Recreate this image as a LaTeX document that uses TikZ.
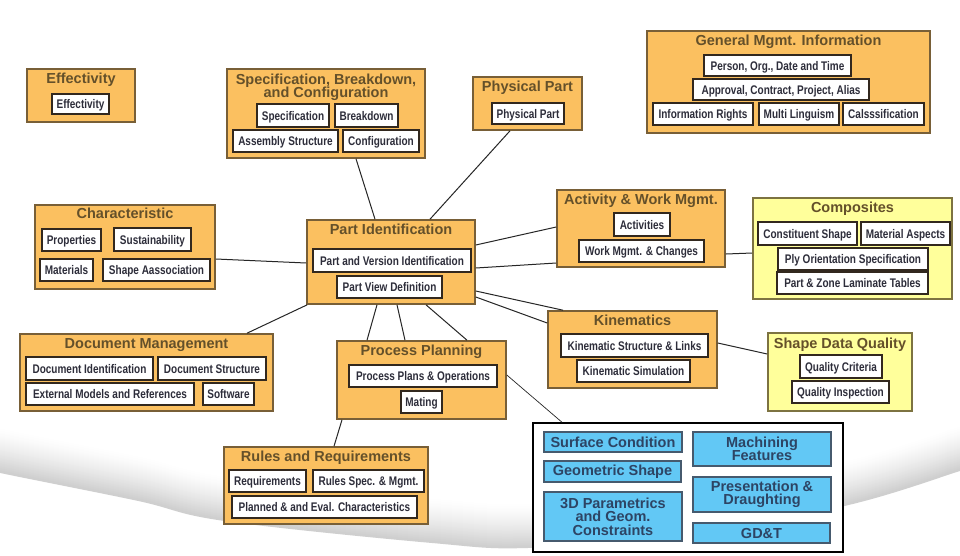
\documentclass[tikz,border=0pt]{standalone}
\usepackage{fontspec}
\setmainfont{Liberation Sans}
\newfontfamily\narrowfont[FakeStretch=0.8]{Liberation Sans}

\definecolor{grpfill}{RGB}{251,192,96}
\definecolor{grpborder}{RGB}{120,95,55}
\definecolor{yfill}{RGB}{255,255,155}
\definecolor{yborder}{RGB}{125,115,65}
\definecolor{titlecol}{RGB}{100,80,42}
\definecolor{itemborder}{RGB}{50,40,30}
\definecolor{itemtext}{RGB}{45,45,58}
\definecolor{bluefill}{RGB}{98,200,245}
\definecolor{blueborder}{RGB}{70,90,110}
\definecolor{bluetext}{RGB}{45,68,100}

\begin{document}
\begin{tikzpicture}[x=1pt,y=-1pt,
  grp/.style={draw=grpborder, fill=grpfill, line width=1.6pt, inner sep=0pt},
  ygrp/.style={grp, draw=yborder, fill=yfill},
  title/.style={font=\fontsize{14.5}{13}\selectfont\bfseries, text=titlecol, inner sep=0pt,
    text height=10.4pt, text depth=0pt},
  item/.style={draw=itemborder, fill=white, line width=1.2pt, inner sep=0pt,
    font=\narrowfont\fontsize{12.5}{14}\selectfont\bfseries, text=itemtext,
    text height=9pt, text depth=0pt},
  bluebox/.style={draw=blueborder, fill=bluefill, line width=1.3pt, inner sep=0pt,
    font=\fontsize{14.5}{13.5}\selectfont\bfseries, text=bluetext, align=center},
  holder/.style={draw=black, fill=white, line width=1.5pt, inner sep=0pt},
  link/.style={draw=black!85, line width=1pt}]

\useasboundingbox (0,0) rectangle (960,555);
\fill[white] (0,0) rectangle (960,555);

% soft grey swoosh along the lower part of the page
\foreach \i in {44,43,...,0} {
  \pgfmathsetmacro\shade{19*(1-\i/44)^1.4}
  \draw[line width=1.8pt, color=black!\shade, yshift=\i pt]
    plot[smooth, tension=0.6] coordinates {(-20,466) (0,472) (138,500) (224,520) (431,542) (531,547) (700,534) (853,503) (960,470) (980,463)};
}

% ---------- Effectivity ----------
\node[grp, minimum width=108, minimum height=53] (eff) at (81,95.5) {};
\node[title] (teff) at (81,78) {Effectivity};
\node[item, minimum width=57, minimum height=20] (eff1) at (80.5,104) {Effectivity};

% ---------- Specification, Breakdown, and Configuration ----------
\node[grp, minimum width=198, minimum height=89] (spec) at (326,113.5) {};
\node[title] (tspec) at (326,79) {Specification, Breakdown,};
\node[title] (tspecb) at (326,92) {and Configuration};
\node[item, minimum width=72, minimum height=23] (spec1) at (293,115.5) {Specification};
\node[item, minimum width=63, minimum height=23] (spec2) at (366.5,115.5) {Breakdown};
\node[item, minimum width=105, minimum height=22] (spec3) at (285.5,141) {Assembly Structure};
\node[item, minimum width=76, minimum height=22] (spec4) at (381,141) {Configuration};

% ---------- Physical Part ----------
\node[grp, minimum width=109, minimum height=53] (phys) at (527.5,103.5) {};
\node[title] (tphys) at (527.5,86) {Physical Part};
\node[item, minimum width=72, minimum height=21] (phys1) at (528,113.5) {Physical Part};

% ---------- General Mgmt. Information ----------
\node[grp, minimum width=283, minimum height=102] (gen) at (788.5,82) {};
\node[title] (tgen) at (788.5,40) {General Mgmt. Information};
\node[item, minimum width=147, minimum height=21] (gen1) at (777.5,65.5) {Person, Org., Date and Time};
\node[item, minimum width=176, minimum height=21] (gen2) at (781,89.5) {Approval, Contract, Project, Alias};
\node[item, minimum width=100, minimum height=22] (gen3) at (703,114) {Information Rights};
\node[item, minimum width=80, minimum height=22] (gen4) at (799,114) {Multi Linguism};
\node[item, minimum width=81, minimum height=22] (gen5) at (883.5,114) {Calsssification};

% ---------- Characteristic ----------
\node[grp, minimum width=180, minimum height=84] (char) at (125,247) {};
\node[title] (tchar) at (125,213) {Characteristic};
\node[item, minimum width=59, minimum height=22] (char1) at (71.5,240) {Properties};
\node[item, minimum width=77, minimum height=23] (char2) at (152.5,239.5) {Sustainability};
\node[item, minimum width=53, minimum height=22] (char3) at (66.5,270) {Materials};
\node[item, minimum width=107, minimum height=22] (char4) at (156.5,270) {Shape Aassociation};

% ---------- Part Identification ----------
\node[grp, minimum width=168, minimum height=84] (pid) at (391,262) {};
\node[title] (tpid) at (391,229) {Part Identification};
\node[item, minimum width=158, minimum height=23] (pid1) at (392,260.5) {Part and Version Identification};
\node[item, minimum width=105, minimum height=22] (pid2) at (389.5,287) {Part View Definition};

% ---------- Activity & Work Mgmt. ----------
\node[grp, minimum width=168, minimum height=77] (act) at (641,228.5) {};
\node[title] (tact) at (641,199) {Activity \& Work Mgmt.};
\node[item, minimum width=56, minimum height=23] (act1) at (642,224.5) {Activities};
\node[item, minimum width=125, minimum height=22] (act2) at (641.5,251) {Work Mgmt. \& Changes};

% ---------- Composites ----------
\node[ygrp, minimum width=199, minimum height=101] (comp) at (852.5,248.5) {};
\node[title] (tcomp) at (852.5,207) {Composites};
\node[item, minimum width=99, minimum height=23] (comp1) at (807.5,233.5) {Constituent Shape};
\node[item, minimum width=89, minimum height=23] (comp2) at (905.5,233.5) {Material Aspects};
\node[item, minimum width=150, minimum height=22] (comp3) at (853,259) {Ply Orientation Specification};
\node[item, minimum width=151, minimum height=22] (comp4) at (852.5,283) {Part \& Zone Laminate Tables};

% ---------- Kinematics ----------
\node[grp, minimum width=169, minimum height=77] (kin) at (632.5,349.5) {};
\node[title] (tkin) at (632.5,320) {Kinematics};
\node[item, minimum width=147, minimum height=23] (kin1) at (634.5,345.5) {Kinematic Structure \& Links};
\node[item, minimum width=113, minimum height=22] (kin2) at (633.5,371) {Kinematic Simulation};

% ---------- Shape Data Quality ----------
\node[ygrp, minimum width=144, minimum height=78] (sdq) at (840,372) {};
\node[title] (tsdq) at (840,343) {Shape Data Quality};
\node[item, minimum width=82, minimum height=23] (sdq1) at (841,366.5) {Quality Criteria};
\node[item, minimum width=97, minimum height=22] (sdq2) at (840.5,392) {Quality Inspection};

% ---------- Document Management ----------
\node[grp, minimum width=253, minimum height=77] (doc) at (146.5,372.5) {};
\node[title] (tdoc) at (146.5,343) {Document Management};
\node[item, minimum width=127, minimum height=23] (doc1) at (89.5,368.5) {Document Identification};
\node[item, minimum width=108, minimum height=23] (doc2) at (212,368.5) {Document Structure};
\node[item, minimum width=168, minimum height=22] (doc3) at (110,394) {External Models and References};
\node[item, minimum width=51, minimum height=22] (doc4) at (228.5,394) {Software};

% ---------- Process Planning ----------
\node[grp, minimum width=169, minimum height=78] (pp) at (421.5,380) {};
\node[title] (tpp) at (421.5,350) {Process Planning};
\node[item, minimum width=148, minimum height=22] (pp1) at (423,376) {Process Plans \& Operations};
\node[item, minimum width=41, minimum height=22] (pp2) at (421.5,402) {Mating};

% ---------- Rules and Requirements ----------
\node[grp, minimum width=204, minimum height=77] (rules) at (326,485.5) {};
\node[title] (trules) at (326,456) {Rules and Requirements};
\node[item, minimum width=77, minimum height=22] (rules1) at (267.5,481) {Requirements};
\node[item, minimum width=111, minimum height=22] (rules2) at (368.5,481) {Rules Spec. \& Mgmt.};
\node[item, minimum width=185, minimum height=22] (rules3) at (324.5,507) {Planned \& and Eval. Characteristics};

% ---------- Geometry group ----------
\node[holder, minimum width=310, minimum height=129] (geo) at (688,487.5) {};
\node[bluebox, minimum width=138, minimum height=20] (geo1) at (613,442) {Surface Condition};
\node[bluebox, minimum width=138, minimum height=34] (geo2) at (762,449) {Machining\\Features};
\node[bluebox, minimum width=137, minimum height=21] (geo3) at (612.5,471.5) {Geometric Shape};
\node[bluebox, minimum width=138, minimum height=35] (geo4) at (762,494.5) {Presentation \&\\Draughting};
\node[bluebox, minimum width=138, minimum height=49] (geo5) at (613,516.5) {3D Parametrics\\and Geom.\\Constraints};
\node[bluebox, minimum width=137, minimum height=20] (geo6) at (761.5,533) {GD\&T};

% ---------- connectors ----------
\draw[link] ([xshift=30pt]spec.south) -- ([xshift=-16pt]pid.north);
\draw[link] ([xshift=-17.5pt]phys.south) -- ([xshift=39pt]pid.north);
\draw[link] ([yshift=-12pt]char.east) -- ([yshift=-1pt]pid.west);
\draw[link] ([xshift=100.5pt]doc.north) -- ([xshift=1pt]pid.south west);
\draw[link] ([yshift=17pt]pid.east) -- ([yshift=1.5pt]act.west);
\draw[link] ([yshift=-6pt]pid.east) -- ([yshift=-34.5pt]act.west);
\draw[link] ([yshift=-29pt]pid.east) -- ([xshift=-69.5pt]kin.north);
\draw[link] ([yshift=-35pt]pid.east) -- ([yshift=26.5pt]kin.west);
\draw[link] ([xshift=-14pt]pid.south) -- ([xshift=-54.5pt]pp.north);
\draw[link] ([xshift=6pt]pid.south) -- ([xshift=-16.5pt]pp.north);
\draw[link] ([xshift=35pt]pid.south) -- ([xshift=45.5pt]pp.north);
\draw[link, line width=0.7pt] ([yshift=5pt]pp.east) -- ([xshift=-126pt]geo.north);
\draw[link] ([xshift=-79.5pt]pp.south) -- ([xshift=8pt]rules.north);
\draw[link] ([yshift=-25.5pt]act.east) -- ([yshift=-4.5pt]comp.west);
\draw[link] ([yshift=6.5pt]kin.east) -- ([yshift=18pt]sdq.west);

\end{tikzpicture}
\end{document}
